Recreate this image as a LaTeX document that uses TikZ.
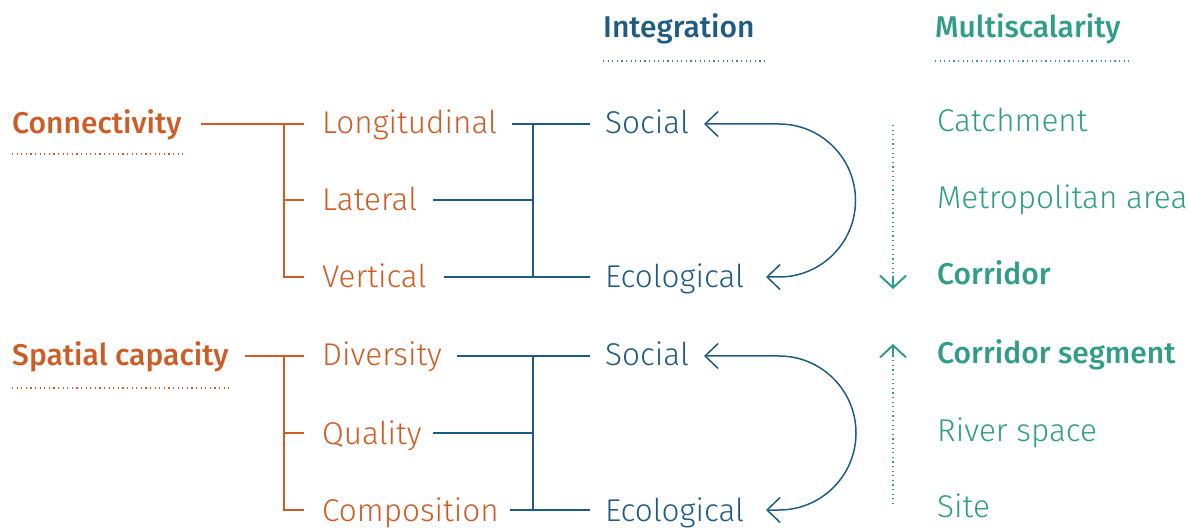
\documentclass[tikz,border=0pt]{standalone}
\usepackage{fontspec}
\setmainfont{Fira Sans Light}
\newfontfamily\bdfont{Fira Sans Medium}
\usetikzlibrary{arrows.meta}
\definecolor{orng}{RGB}{205,93,38}
\definecolor{blu}{RGB}{30,92,130}
\definecolor{grn}{RGB}{48,158,135}
\begin{document}
\begin{tikzpicture}[x=1pt,y=-1pt,
  txt/.style={anchor=base west,inner sep=0pt,font=\fontsize{31.5}{36}\selectfont},
  bold/.style={txt,font=\fontsize{30}{36}\selectfont\bdfont},
  oline/.style={draw=orng,line width=1.5pt},
  bline/.style={draw=blu,line width=1.5pt},
  dots/.style={line width=1.2pt,dash pattern=on 1.2pt off 3.4pt},
  barb/.style={line width=1.5pt,{Straight Barb[length=13pt,width=25pt]}-{Straight Barb[length=13pt,width=25pt]}},
  chev/.style={line width=2pt,-{Straight Barb[length=12pt,width=26pt,line width=2pt]}}]
\useasboundingbox (0,0) rectangle (1189,529);
% headers
\node[bold,text=blu] (hint) at (603,38) {Integration};
\node[bold,text=grn] (hmul) at (935,38) {Multiscalarity};
\draw[dots,draw=blu!80] (603,61) -- (766,61);
\draw[dots,draw=grn] (935,61) -- (1130,61);
% left headings
\node[bold,text=orng] (con) at (12,134) {Connectivity};
\node[bold,text=orng] (spa) at (12,366) {Spatial capacity};
\draw[dots,draw=orng] (12,154) -- (185,154);
\draw[dots,draw=orng] (12,388) -- (229,388);
% second column
\node[txt,text=orng] (lon) at (322,134) {Longitudinal};
\node[txt,text=orng] (lat) at (322,211) {Lateral};
\node[txt,text=orng] (ver) at (322,288) {Vertical};
\node[txt,text=orng] (div) at (322,366) {Diversity};
\node[txt,text=orng] (qua) at (322,444) {Quality};
\node[txt,text=orng] (com) at (322,521) {Composition};
% third column
\node[txt,text=blu] (soc1) at (605,134) {Social};
\node[txt,text=blu] (eco1) at (605,288) {Ecological};
\node[txt,text=blu] (soc2) at (605,366) {Social};
\node[txt,text=blu] (eco2) at (605,521) {Ecological};
% right column
\node[txt,text=grn] (cat) at (937,132) {Catchment};
\node[txt,text=grn] (met) at (937,209) {Metropolitan area};
\node[bold,text=grn] (cor) at (937,285) {Corridor};
\node[bold,text=grn] (seg) at (937,363) {Corridor segment};
\node[txt,text=grn] (riv) at (937,441) {River space};
\node[txt,text=grn] (sit) at (937,517) {Site};
% orange trees
\draw[oline] (201,124) -- (304,124);
\draw[oline] (284,124) -- (284,277) -- (304,277);
\draw[oline] (284,200) -- (304,200);
\draw[oline] (245,356) -- (304,356);
\draw[oline] (284,356) -- (284,510) -- (304,510);
\draw[oline] (284,433) -- (304,433);
% blue trees
\draw[bline] (512,124) -- (590,124);
\draw[bline] (533,124) -- (533,277);
\draw[bline] (433,200) -- (533,200);
\draw[bline] (444,277) -- (590,277);
\draw[bline] (457,356) -- (590,356);
\draw[bline] (533,356) -- (533,510);
\draw[bline] (433,433) -- (533,433);
\draw[bline] (510,510) -- (590,510);
% loop arrows
\draw[barb,draw=blu] (704,124) -- (779,124) arc[start angle=-90,end angle=90,radius=76.5] -- (766,277);
\draw[barb,draw=blu] (704,356) -- (779,356) arc[start angle=-90,end angle=90,radius=77] -- (766,510);
% scale arrows
\draw[dots,draw=grn] (893,125) -- (893,283);
\draw[chev,draw=grn] (893,276) -- (893,289);
\draw[dots,draw=grn] (893,504) -- (893,350);
\draw[chev,draw=grn] (893,357) -- (893,344);
\end{tikzpicture}
\end{document}
